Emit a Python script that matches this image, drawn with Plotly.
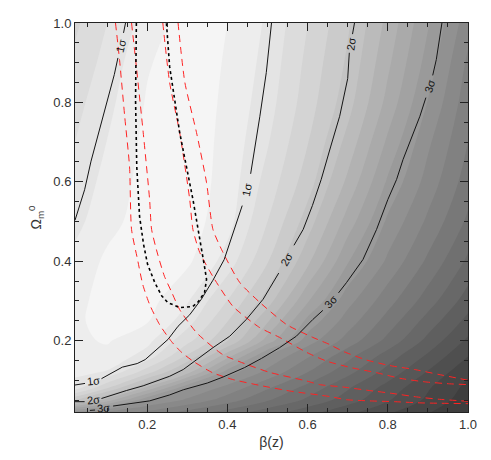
import plotly.graph_objects as go

# ---- grid of chi^2 values read from the grey shading (rows = Omega, cols = beta)
beta_grid = [0.02, 0.1, 0.2, 0.3, 0.4, 0.5, 0.6, 0.7, 0.8, 0.9, 1.0]
omega_grid = [0.02, 0.05, 0.08, 0.12, 0.16, 0.2, 0.25, 0.3, 0.4, 0.5, 0.6, 0.7, 0.8, 0.9, 1.0]
chi2_grid = [
    [12.2, 13.1, 14.2, 15.3, 16.4, 17.5, 18.6, 19.7, 20.8, 21.9, 23.0],
    [5.9, 8.5, 11.85, 13.2, 14.5, 15.9, 17.2, 18.5, 19.9, 21.2, 22.6],
    [2.6, 5.0, 8.37, 11.9, 13.4, 14.9, 16.4, 17.9, 19.4, 20.9, 22.3],
    [1.7, 2.1, 4.61, 7.64, 11.5, 13.3, 15.0, 16.7, 18.4, 20.1, 21.8],
    [1.4, 1.3, 2.44, 5.2, 8.69, 12.15, 13.9, 15.7, 17.5, 19.2, 21.0],
    [1.2, 0.9, 1.7, 3.67, 5.95, 9.44, 12.5, 14.4, 16.3, 18.3, 20.2],
    [1.2, 0.6, 0.9, 2.54, 4.94, 7.85, 11.28, 13.46, 15.4, 17.4, 19.3],
    [1.3, 0.6, 0.6, 1.9, 4.02, 6.5, 9.88, 12.64, 14.6, 16.5, 18.5],
    [1.7, 0.8, 0.4, 0.8, 2.42, 4.92, 7.73, 10.9, 13.2, 15.2, 17.2],
    [2.3, 1.34, 0.5, 0.5, 1.6, 4.0, 6.47, 9.43, 12.2, 14.2, 16.2],
    [2.7, 1.65, 0.6, 0.4, 1.4, 3.38, 5.52, 8.22, 11.15, 13.4, 15.5],
    [3.0, 1.98, 0.7, 0.4, 1.3, 2.91, 4.95, 7.33, 10.2, 12.8, 15.0],
    [3.34, 2.3, 0.9, 0.4, 1.2, 2.57, 4.51, 6.58, 9.33, 12.05, 14.6],
    [3.76, 2.64, 1.1, 0.4, 1.1, 2.34, 4.26, 6.17, 8.79, 11.4, 14.2],
    [4.2, 3.0, 1.55, 0.5, 1.0, 2.15, 3.98, 5.85, 8.31, 10.9, 13.6],
]

# ---- labelled confidence contours (None = gap for label)
s1_right_x = [0.02, 0.045, None, 0.086, 0.115, 0.138, 0.175, 0.195, 0.232, 0.252, 0.277, 0.306, 0.335,
              0.364, 0.392, 0.418, 0.437, None, 0.458, 0.47, 0.481, 0.497, 0.51]
s1_right_y = [0.088, 0.092, None, 0.104, 0.119, 0.133, 0.142, 0.152, 0.185, 0.203, 0.236, 0.265, 0.304,
              0.352, 0.404, 0.48, 0.54, None, 0.62, 0.69, 0.765, 0.875, 1.0]
s1_left_x = [0.02, 0.044, 0.06, 0.082, 0.103, 0.118, 0.127, None, 0.141, 0.146]
s1_left_y = [0.503, 0.58, 0.652, 0.732, 0.81, 0.87, 0.912, None, 0.975, 1.0]
s2_x = [0.02, 0.044, None, 0.086, 0.115, 0.148, 0.19, 0.223, 0.256, 0.29, 0.323, 0.364, 0.406, 0.447,
        0.489, 0.528, None, 0.566, 0.589, 0.612, 0.634, 0.658, 0.68, 0.70, 0.704, None, 0.712, 0.717]
s2_y = [0.046, 0.046, None, 0.054, 0.064, 0.074, 0.086, 0.098, 0.11, 0.127, 0.152, 0.182, 0.211, 0.253,
        0.304, 0.37, None, 0.44, 0.48, 0.54, 0.606, 0.69, 0.765, 0.86, 0.925, None, 0.972, 1.0]
s3_x = [0.057, 0.07, None, 0.115, 0.156, 0.206, 0.256, 0.29, 0.35, 0.389, 0.443, 0.485, 0.53, 0.572,
        0.613, 0.638, None, 0.677, 0.697, 0.738, 0.772, 0.80, 0.822, 0.838, 0.86, 0.88, 0.895, None,
        0.912, 0.921, 0.935]
s3_y = [0.024, 0.025, None, 0.035, 0.041, 0.048, 0.063, 0.076, 0.093, 0.108, 0.132, 0.155, 0.182, 0.211,
        0.253, 0.276, None, 0.32, 0.346, 0.404, 0.48, 0.555, 0.606, 0.656, 0.715, 0.765, 0.812, None,
        0.868, 0.908, 1.0]

label_text = ["1σ", "2σ", "3σ", "1σ", "1σ", "2σ", "2σ", "3σ", "3σ"]
label_x = [0.065, 0.065, 0.09, 0.134, 0.448, 0.548, 0.708, 0.657, 0.903]
label_y = [0.098, 0.05, 0.031, 0.943, 0.58, 0.405, 0.948, 0.298, 0.84]
label_angle = [-6, -6, -5, -76, -78, -60, -82, -48, -74]

# ---- red dashed bands
redA_x = [0.121, 0.131, 0.144, 0.156, 0.161, 0.176, 0.189, 0.206, 0.231, 0.261, 0.286, 0.316, 0.363,
          0.413, 0.481, 0.555, 0.655, 0.697, 0.755, 0.817, 0.88, 0.934, 1.0]
redA_y = [1.0, 0.908, 0.764, 0.638, 0.48, 0.404, 0.341, 0.291, 0.24, 0.197, 0.17, 0.147, 0.119,
          0.102, 0.087, 0.073, 0.059, 0.051, 0.048, 0.046, 0.043, 0.042, 0.041]
redB_x = [0.161, 0.173, 0.19, 0.206, 0.211, 0.226, 0.243, 0.261, 0.281, 0.323, 0.388, 0.448, 0.505,
          0.598, 0.63, 0.688, 0.747, 0.81, 0.872, 0.929, 1.0]
redB_y = [1.0, 0.89, 0.725, 0.556, 0.48, 0.418, 0.362, 0.322, 0.278, 0.22, 0.165, 0.14, 0.12,
          0.098, 0.089, 0.083, 0.075, 0.067, 0.058, 0.052, 0.047]
redC_x = [0.239, 0.256, 0.281, 0.306, 0.314, 0.331, 0.364, 0.414, 0.48, 0.53, 0.598, 0.648, 0.712,
          0.772, 0.83, 0.892, 0.954, 1.0]
redC_y = [1.0, 0.85, 0.724, 0.556, 0.48, 0.422, 0.361, 0.286, 0.233, 0.208, 0.17, 0.148, 0.131,
          0.119, 0.105, 0.096, 0.091, 0.089]
redD_x = [0.277, 0.294, 0.323, 0.348, 0.364, 0.389, 0.431, 0.481, 0.548, 0.613, 0.655, 0.688, 0.747,
          0.805, 0.867, 0.925, 1.0]
redD_y = [1.0, 0.85, 0.724, 0.598, 0.48, 0.422, 0.346, 0.296, 0.24, 0.208, 0.19, 0.173, 0.151,
          0.137, 0.127, 0.115, 0.1]

# ---- black dotted region
dot_x = [0.173, 0.171, 0.174, 0.181, 0.191, 0.201, 0.219, 0.236, 0.251, 0.281, 0.314, 0.326, 0.343,
         0.348, 0.343, 0.335, 0.327, 0.314, 0.281, 0.256, 0.248]
dot_y = [1.0, 0.807, 0.638, 0.513, 0.442, 0.392, 0.346, 0.313, 0.296, 0.283, 0.286, 0.296, 0.321,
         0.354, 0.386, 0.43, 0.48, 0.556, 0.724, 0.89, 1.0]

fig = go.Figure()
fig.add_trace(go.Contour(
    x=beta_grid, y=omega_grid, z=chi2_grid,
    contours=dict(start=1, end=22, size=1, coloring="fill", showlines=False),
    colorscale=[[0, "rgb(245,245,245)"], [1, "rgb(62,62,62)"]],
    line=dict(width=0, smoothing=1.0),
    showscale=False, hoverinfo="skip"))

for xs, ys in [(redA_x, redA_y), (redB_x, redB_y), (redC_x, redC_y), (redD_x, redD_y)]:
    fig.add_trace(go.Scatter(x=xs, y=ys, mode="lines",
                             line=dict(color="rgb(255,35,35)", width=1, dash="7px,5px", shape="spline", smoothing=0.6),
                             hoverinfo="skip", showlegend=False))

fig.add_trace(go.Scatter(x=dot_x, y=dot_y, mode="lines",
                         line=dict(color="black", width=1.6, dash="dot"),
                         hoverinfo="skip", showlegend=False))

for xs, ys in [(s1_right_x, s1_right_y), (s1_left_x, s1_left_y), (s2_x, s2_y), (s3_x, s3_y)]:
    fig.add_trace(go.Scatter(x=xs, y=ys, mode="lines", connectgaps=False,
                             line=dict(color="#151515", width=1),
                             hoverinfo="skip", showlegend=False))

for t, lx, ly, a in zip(label_text, label_x, label_y, label_angle):
    fig.add_annotation(x=lx, y=ly, xref="x", yref="y", text=t, showarrow=False,
                       textangle=a, font=dict(size=11, color="#151515", family="Liberation Sans"))

axis_common = dict(
    showline=True, linecolor="#222222", linewidth=1, mirror="ticks",
    ticks="inside", ticklen=8, tickwidth=1, tickcolor="#222222",
    tickmode="linear", tick0=0, dtick=0.2, tickformat=".1f",
    minor=dict(ticks="inside", ticklen=4, tickwidth=1, tickcolor="#222222", dtick=0.05, tick0=0, showgrid=False),
    showgrid=False, zeroline=False, automargin=False, layer="above traces",
    tickfont=dict(size=13, color="#333333", family="Liberation Sans"),
)
fig.update_xaxes(range=[0.02, 1.0],
                 title=dict(text="β(z)", font=dict(size=14, color="#333333", family="Liberation Sans"), standoff=6),
                 **axis_common)
fig.update_yaxes(range=[0.02, 1.0],
                 title=dict(text="Ω<sub>m</sub><sup>0</sup>", font=dict(size=14, color="#333333", family="Liberation Sans"), standoff=8),
                 **axis_common)

fig.update_layout(width=491, height=460, margin=dict(l=75, r=23, t=23, b=48),
                  paper_bgcolor="white", plot_bgcolor="white", showlegend=False)

fig.write_html("out.html", config={"displayModeBar": False, "staticPlot": True},
               post_script="document.body.style.margin='0px';document.body.style.padding='0px';")
